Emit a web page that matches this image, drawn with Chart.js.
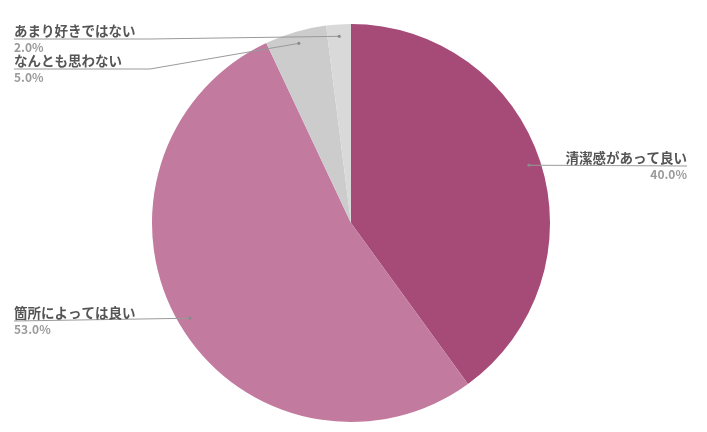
<!DOCTYPE html>
<html>
<head>
<meta charset="utf-8">
<script src="https://cdn.jsdelivr.net/npm/chart.js@4"></script>
<style>
  html, body { margin: 0; padding: 0; background: #fff; }
</style>
</head>
<body>
<canvas id="pie" width="707" height="432"></canvas>
<script>
// Answers, clockwise from 12 o'clock
const LABELS = ['清潔感があって良い', '箇所によっては良い', 'なんとも思わない', 'あまり好きではない'];
const VALUES = [40, 53, 5, 2];
const COLORS = ['#a64a78', '#c27a9f', '#cccccc', '#d9d9d9'];

const FONT_FAMILY = "'Noto Sans CJK JP', 'Noto Sans', sans-serif";

// where each callout sits: side, underline y, elbow x (left side only)
const CALLOUTS = [
    { side: 'right', y: 166 },
    { side: 'left', y: 321, elbow: null },
    { side: 'left', y: 69, elbow: 150 },
    { side: 'left', y: 39, elbow: 150 },
];

const calloutPlugin = {
    id: 'callouts',
    afterDraw(chart) {
        const ctx = chart.ctx;
        const meta = chart.getDatasetMeta(0);
        const total = VALUES.reduce((a, b) => a + b, 0);
        const leftX = 14;
        const rightX = 687;

        meta.data.forEach((arc, i) => {
            const c = CALLOUTS[i];
            const mid = (arc.startAngle + arc.endAngle) / 2;
            const r = arc.outerRadius * 0.94;
            const px = arc.x + Math.cos(mid) * r;
            const py = arc.y + Math.sin(mid) * r;

            ctx.save();
            ctx.strokeStyle = '#9a9a9a';
            ctx.lineWidth = 1;
            ctx.beginPath();
            if (c.side === 'right') {
                ctx.moveTo(px, py);
                ctx.lineTo(rightX, c.y);
            } else {
                ctx.moveTo(leftX, c.y);
                if (c.elbow) ctx.lineTo(c.elbow, c.y);
                ctx.lineTo(px, py);
            }
            ctx.stroke();

            ctx.fillStyle = '#8a8a8a';
            ctx.beginPath();
            ctx.arc(px, py, 1.6, 0, Math.PI * 2);
            ctx.fill();

            const pct = (VALUES[i] / total * 100).toFixed(1) + '%';
            ctx.textAlign = c.side === 'right' ? 'right' : 'left';
            ctx.textBaseline = 'middle';
            const tx = c.side === 'right' ? rightX : leftX;
            ctx.font = `bold 13.5px ${FONT_FAMILY}`;
            ctx.fillStyle = '#555555';
            ctx.fillText(LABELS[i], tx, c.y - 8.5);
            ctx.font = `bold 12px ${FONT_FAMILY}`;
            ctx.fillStyle = '#9a9a9a';
            ctx.fillText(pct, tx, c.y + 8.5);
            ctx.restore();
        });
    },
};

new Chart(document.getElementById('pie'), {
    type: 'pie',
    data: {
        labels: LABELS,
        datasets: [{
            data: VALUES,
            backgroundColor: COLORS,
            borderWidth: 0,
        }],
    },
    options: {
        responsive: false,
        animation: false,
        layout: { padding: { top: 24, bottom: 10, left: 152, right: 157 } },
        plugins: {
            legend: { display: false },
            tooltip: { enabled: false },
        },
    },
    plugins: [calloutPlugin],
});
</script>
</body>
</html>
